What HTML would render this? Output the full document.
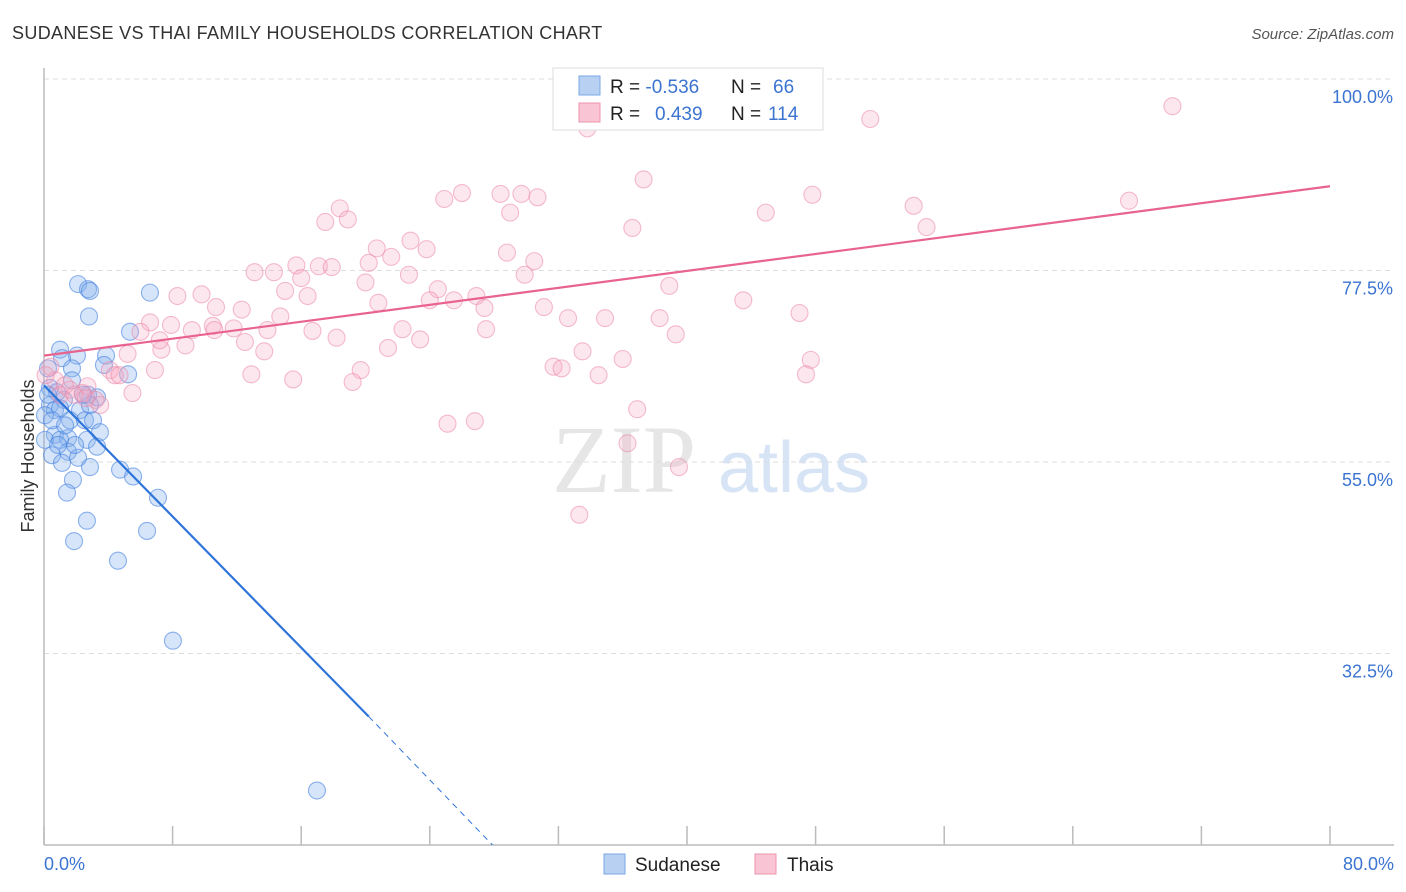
<!DOCTYPE html>
<html><head><meta charset="utf-8"><style>
body{margin:0;background:#fff;font-family:"Liberation Sans",sans-serif;}
svg{display:block}
</style></head><body>
<svg id="chart" width="1406" height="892">
<text x="12" y="39" font-size="18" fill="#333" letter-spacing="0.35">SUDANESE VS THAI FAMILY HOUSEHOLDS CORRELATION CHART</text>
<text x="1394" y="39" font-size="15" fill="#555" font-style="italic" text-anchor="end">Source: ZipAtlas.com</text>
<g><text x="552" y="492" font-size="96" fill="#e6e6e6" font-family="Liberation Serif,serif">ZIP</text><text x="718" y="492" font-size="72" fill="#d6e4f5">atlas</text></g>
<g id="grid"></g>
<g id="axes"></g>
<g id="marks"></g>
<text transform="translate(34,456) rotate(-90)" font-size="18" fill="#333" text-anchor="middle">Family Households</text>
<text x="44" y="870" font-size="18" fill="#3b74d1">0.0%</text>
<text x="1394" y="870" font-size="18" fill="#3b74d1" text-anchor="end">80.0%</text>
<g>
<rect x="553" y="68" width="270" height="62" fill="#fff" stroke="#ddd"/>
<rect x="579" y="76" width="21" height="19" fill="#b8d1f3" stroke="#7aa7e6"/>
<rect x="579" y="103" width="21" height="19" fill="#f9c5d4" stroke="#ee93ad"/>
<text x="610" y="93" font-size="19" fill="#222">R = <tspan fill="#3b74d1">-0.536</tspan><tspan x="731">N = </tspan><tspan x="773" fill="#3b74d1">66</tspan></text>
<text x="610" y="120" font-size="19" fill="#222">R = <tspan x="655" fill="#3b74d1">0.439</tspan><tspan x="731">N = </tspan><tspan x="768" fill="#3b74d1">114</tspan></text>
</g>
<g>
<rect x="604" y="854" width="21" height="20" fill="#b8d1f3" stroke="#7aa7e6"/>
<text x="635" y="871" font-size="19" fill="#222">Sudanese</text>
<rect x="755" y="854" width="21" height="20" fill="#f9c5d4" stroke="#ee93ad"/>
<text x="787" y="871" font-size="19" fill="#222">Thais</text>
</g>
</svg>
<script>
const yTicks=[100,77.5,55,32.5];
const yTickLabels=["100.0%","77.5%","55.0%","32.5%"];
const xTicks=[0,8,16,24,32,40,48,56,64,72,80];
const sudX=[2.12,2.74,2.86,6.59,2.8,5.35,1.0,2.05,1.12,3.86,1.74,3.73,5.23,0.37,0.81,1.74,2.74,3.3,1.24,0.37,0.68,2.24,0.06,1.0,1.62,2.55,3.05,3.48,0.68,1.49,0.06,1.0,2.67,3.3,0.5,1.49,2.12,2.86,1.12,4.73,5.54,1.8,1.43,7.09,2.67,6.41,1.87,4.6,8.02,16.98,0.25,0.5,1.31,1.93,0.87,2.86,2.43,0.25];
const sudY=[75.9,75.3,75.1,74.9,72.1,70.3,68.2,67.5,67.2,67.5,66.0,66.4,65.3,63.7,63.2,64.6,62.9,62.6,62.3,61.7,61.1,61.1,60.5,61.3,59.9,59.9,59.9,58.5,58.2,57.8,57.6,57.6,57.6,56.8,55.8,56.2,55.5,54.4,54.9,54.1,53.3,52.9,51.4,50.8,48.1,46.9,45.7,43.4,34.0,16.4,62.9,59.9,59.3,57.0,57.0,61.7,62.9,66.0];
const thaiX=[70.2,51.4,33.8,37.3,26.0,24.9,28.4,29.7,30.7,29.0,47.8,54.1,67.5,44.9,18.4,18.9,17.5,36.6,54.9,20.7,22.8,23.8,28.8,30.5,21.6,20.2,13.1,14.3,15.7,17.1,17.9,16.0,29.9,20.0,22.7,24.5,15.0,16.4,8.3,9.8,24.0,25.5,26.9,38.9,43.5,20.8,27.4,31.1,10.7,12.3,14.7,32.6,34.9,38.3,47.0,6.6,7.9,9.2,10.5,11.8,13.9,16.7,18.2,22.3,27.5,39.3,6.0,8.8,7.3,12.5,13.7,23.4,21.4,33.5,36.0,47.7,5.2,6.9,12.9,15.5,19.7,19.2,31.7,32.2,34.5,47.4,4.1,4.4,4.7,2.7,2.4,1.6,1.0,3.2,3.5,5.5,36.9,26.8,25.1,36.3,39.5,33.3,0.4,0.7,1.3,1.9,2.6,0.1,7.2,10.6];
const thaiY=[96.8,95.3,94.2,88.2,86.6,85.9,86.5,86.5,86.1,84.3,86.4,85.1,85.7,84.3,84.8,83.5,83.2,82.5,82.6,80.1,81.0,80.0,79.6,78.6,79.1,78.4,77.3,77.3,78.1,78.0,77.9,76.6,77.0,76.1,77.0,75.3,75.1,74.5,74.5,74.7,74.0,74.0,74.5,75.7,74.0,73.7,73.1,73.2,73.2,72.9,72.1,71.9,71.9,71.9,72.5,71.4,71.1,70.5,71.0,70.7,70.5,70.4,69.6,70.6,70.6,70.0,70.3,68.7,68.2,69.1,68.0,69.4,68.4,68.0,67.1,67.0,67.7,65.8,65.3,64.7,65.8,64.4,66.2,66.0,65.2,65.3,65.8,65.2,65.2,63.9,63.1,63.5,62.9,62.3,61.7,63.1,61.2,59.8,59.5,57.2,54.4,48.8,66.2,64.6,64.0,62.9,62.5,65.2,69.3,70.5];
const sudTrend=[[0,64.0],[20.2,25.1]];
const sudTrendDash=[[20.2,25.1],[27.9,10.0]];
const thaiTrend=[[0,67.5],[80,87.4]];
const X=v=>44+v*16.075, Y=v=>79+(100-v)*8.511;
const NS="http://www.w3.org/2000/svg";
function mk(t,a,p){const e=document.createElementNS(NS,t);for(const k in a)e.setAttribute(k,a[k]);p.appendChild(e);return e;}
const grid=document.getElementById('grid'),axes=document.getElementById('axes'),marks=document.getElementById('marks');
yTicks.forEach((v,i)=>{
 const l=mk('line',{x1:44,x2:1394,y1:Y(v),y2:Y(v),stroke:'#ddd','stroke-dasharray':'5,4'},grid);
 
 
 const t=mk('text',{x:1393,y:Y(v)+24,'font-size':18,fill:'#3b74d1','text-anchor':'end'},axes);
 t.textContent=yTickLabels[i];
 
 
});
mk('line',{x1:44,x2:44,y1:68,y2:845,stroke:'#bbb','stroke-width':1.5},axes);
mk('line',{x1:44,x2:1394,y1:845,y2:845,stroke:'#bbb','stroke-width':1.5},axes);
xTicks.forEach(v=>{const l=mk('line',{x1:X(v),x2:X(v),y1:826,y2:845,stroke:'#bbb','stroke-width':1.5},axes);
 
 });
sudX.forEach((x,i)=>{const c=mk('circle',{cx:X(x),cy:Y(sudY[i]),r:8.5,fill:'rgba(130,175,238,0.33)',stroke:'rgba(70,130,225,0.6)','stroke-width':1.1},marks);
 
 });
thaiX.forEach((x,i)=>{const c=mk('circle',{cx:X(x),cy:Y(thaiY[i]),r:8.5,fill:'rgba(247,170,195,0.28)',stroke:'rgba(235,135,168,0.55)','stroke-width':1.1},marks);
 
 });
const l1=mk('line',{x1:X(thaiTrend[0][0]),y1:Y(thaiTrend[0][1]),x2:X(thaiTrend[1][0]),y2:Y(thaiTrend[1][1]),stroke:'#e8648f','stroke-width':2.2},marks);


const l2=mk('line',{x1:X(sudTrend[0][0]),y1:Y(sudTrend[0][1]),x2:X(sudTrend[1][0]),y2:Y(sudTrend[1][1]),stroke:'#2f74d8','stroke-width':2.2},marks);


const l3=mk('line',{x1:X(sudTrendDash[0][0]),y1:Y(sudTrendDash[0][1]),x2:X(sudTrendDash[1][0]),y2:Y(sudTrendDash[1][1]),stroke:'#2f74d8','stroke-width':1,'stroke-dasharray':'6,5'},marks);


</script>
</body></html>
